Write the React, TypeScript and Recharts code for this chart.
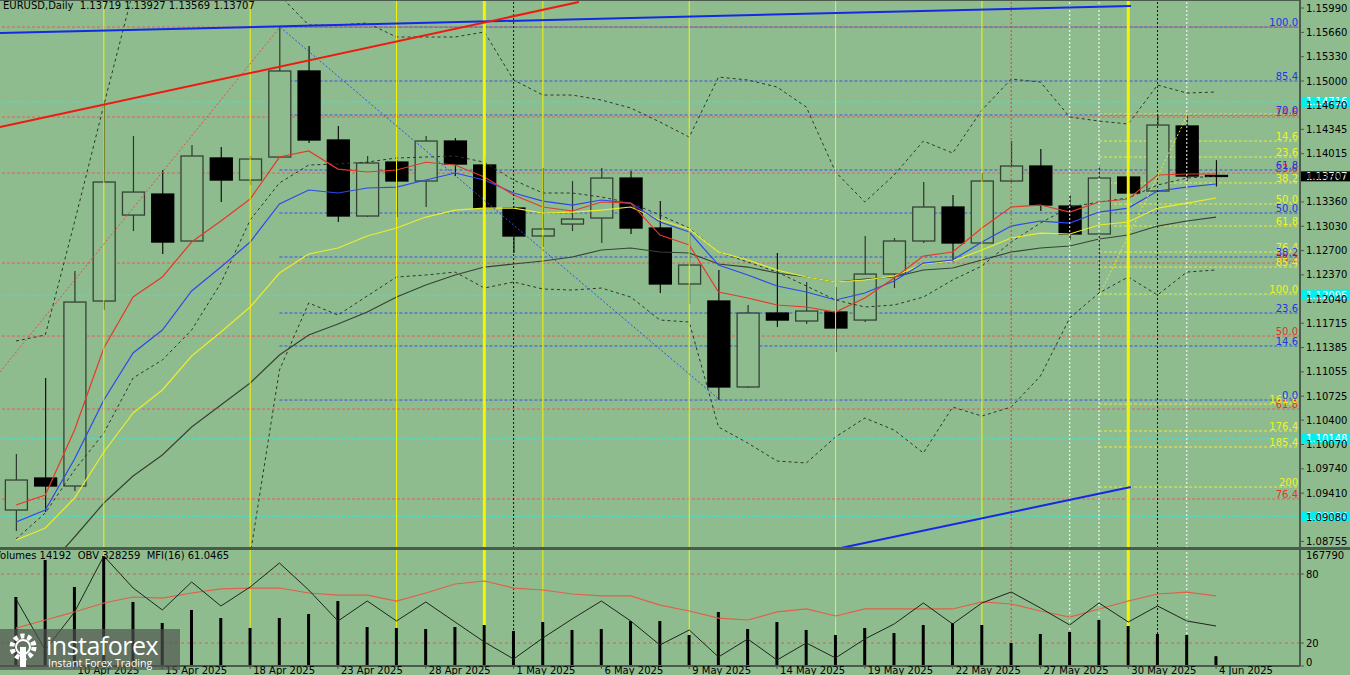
import React from 'react';
import { ComposedChart, Line, Bar, XAxis, YAxis, ReferenceLine, ReferenceDot } from 'recharts';

const dates = ['8 Apr 2025','9 Apr 2025','10 Apr 2025','11 Apr 2025','14 Apr 2025','15 Apr 2025','16 Apr 2025','17 Apr 2025','18 Apr 2025','21 Apr 2025','22 Apr 2025','23 Apr 2025','24 Apr 2025','25 Apr 2025','28 Apr 2025','29 Apr 2025','30 Apr 2025','1 May 2025','2 May 2025','5 May 2025','6 May 2025','7 May 2025','8 May 2025','9 May 2025','12 May 2025','13 May 2025','14 May 2025','15 May 2025','16 May 2025','19 May 2025','20 May 2025','21 May 2025','22 May 2025','23 May 2025','26 May 2025','27 May 2025','28 May 2025','29 May 2025','30 May 2025','2 Jun 2025','3 Jun 2025','4 Jun 2025'];

const openP = [1.09181,1.09615,1.09507,1.12016,1.13182,1.13467,1.1283,1.13956,1.13657,1.13969,1.15136,1.142,1.13169,1.13901,1.13644,1.14186,1.13861,1.13277,1.12898,1.1306,1.13142,1.13684,1.13006,1.12247,1.12016,1.1085,1.11853,1.11745,1.11867,1.11758,1.12382,1.1283,1.13291,1.12803,1.13644,1.13847,1.13304,1.12925,1.13698,1.13508,1.1439,1.13719];
const highP = [1.09941,1.10972,1.12423,1.14742,1.14254,1.13793,1.14132,1.14105,1.13983,1.15732,1.15475,1.1439,1.13983,1.13929,1.14254,1.14227,1.13996,1.13304,1.1382,1.13644,1.1382,1.13779,1.13372,1.12938,1.12437,1.11962,1.12667,1.12274,1.12206,1.12898,1.12871,1.1363,1.13454,1.13752,1.14186,1.14078,1.13454,1.13847,1.13901,1.14539,1.14539,1.13927];
const lowP = [1.08897,1.09154,1.09439,1.11894,1.12965,1.12653,1.1282,1.13359,1.13589,1.13955,1.1416,1.13088,1.13155,1.13155,1.13291,1.13711,1.13182,1.12667,1.12748,1.12965,1.12803,1.12925,1.12125,1.11975,1.10673,1.10836,1.11663,1.11704,1.11324,1.11731,1.12192,1.12803,1.12545,1.1279,1.1363,1.13237,1.12843,1.12125,1.13128,1.13495,1.13644,1.13569];
const closeP = [1.09588,1.09507,1.12002,1.1363,1.13494,1.12816,1.13983,1.13657,1.13942,1.15136,1.142,1.13169,1.13888,1.13644,1.14186,1.13874,1.13277,1.12898,1.12993,1.13128,1.13684,1.13006,1.12247,1.12504,1.1085,1.11853,1.11758,1.1188,1.1165,1.12382,1.1283,1.13291,1.12803,1.13644,1.13847,1.13318,1.12925,1.13684,1.13481,1.14403,1.13711,1.13707];

const maFast = [1.09249,1.09385,1.10266,1.11379,1.1207,1.12342,1.12816,1.13101,1.134,1.13969,1.14051,1.13806,1.13766,1.13793,1.13898,1.13861,1.13698,1.13454,1.13291,1.13237,1.13359,1.13345,1.12911,1.12776,1.12138,1.12057,1.11962,1.11935,1.11867,1.12057,1.12328,1.12626,1.12681,1.13006,1.13291,1.13318,1.13223,1.13359,1.134,1.13725,1.13739,1.13739];
const maMid = [1.09019,1.09181,1.09873,1.10673,1.11311,1.11623,1.12152,1.12477,1.12816,1.13332,1.13522,1.13481,1.13549,1.13562,1.13657,1.13752,1.13657,1.13481,1.13372,1.13318,1.13386,1.13345,1.13088,1.12952,1.12504,1.12369,1.1222,1.12138,1.1203,1.12125,1.12287,1.12531,1.12572,1.12816,1.13033,1.13101,1.13074,1.13223,1.13277,1.13508,1.13562,1.13603];
const maSlow = [1.08775,1.08937,1.09344,1.09968,1.10497,1.10809,1.1127,1.11596,1.11935,1.12396,1.12654,1.12735,1.12898,1.13006,1.13155,1.1325,1.13277,1.13277,1.1321,1.13223,1.1325,1.13291,1.13115,1.12993,1.12681,1.12572,1.12437,1.12342,1.12274,1.12301,1.12355,1.12518,1.12559,1.12708,1.12871,1.12938,1.12925,1.13047,1.13088,1.13277,1.13345,1.13413];
const maLong = [1.07961,1.08368,1.08815,1.09276,1.09643,1.09927,1.10307,1.10606,1.10904,1.11284,1.11555,1.11704,1.11867,1.1207,1.12233,1.12369,1.12477,1.12518,1.12559,1.12613,1.12708,1.12735,1.12681,1.12667,1.12518,1.12477,1.12396,1.12342,1.12274,1.12315,1.12342,1.12437,1.12464,1.12572,1.12681,1.12735,1.12762,1.12857,1.12911,1.13033,1.13101,1.13155];
const bandMid = [1.08788,1.09141,1.09724,1.10226,1.10972,1.11216,1.11623,1.1226,1.13115,1.13617,1.13861,1.13874,1.13901,1.13956,1.13969,1.13983,1.13898,1.13657,1.13481,1.13481,1.13427,1.13345,1.13183,1.13006,1.12681,1.12545,1.12409,1.1222,1.1203,1.11935,1.11962,1.1207,1.12301,1.12491,1.12816,1.13074,1.13291,1.13359,1.13413,1.13589,1.13684,1.13711];
const bandUp = [1.11474,1.11555,1.13088,1.14674,1.16221,null,null,null,null,1.16166,1.15759,1.15759,1.15787,1.15597,1.15597,1.15597,1.15665,1.15014,1.1481,1.1481,1.14742,1.14634,1.14444,1.1424,1.15054,1.15014,1.14919,1.14647,1.13766,1.13359,1.13725,1.14186,1.14023,1.14607,1.15027,1.14986,1.14512,1.14457,1.14417,1.14946,1.14837,1.14851];
const bandLow = [null,null,null,null,null,null,null,null,1.08571,1.1108,1.11989,1.11826,1.12084,1.12342,1.12369,1.12409,1.12192,1.12274,1.12179,1.12165,1.12192,1.1207,1.11758,1.11731,1.10307,1.1009,1.09846,1.09819,1.10172,1.10429,1.10266,1.09955,1.10578,1.10456,1.10578,1.10999,1.11786,1.12125,1.12342,1.12097,1.12409,1.12437];

const volumes = [99800,153300,114300,159100,92600,62200,81000,69400,55000,69400,75200,94000,56400,55000,53500,56400,59300,50600,63600,52100,53500,65100,65100,44800,78100,53500,63600,52100,44800,55000,47700,59300,62200,59300,33300,46300,49200,66500,57900,46300,44800,14192];
const obvVals = [406600,258700,368900,531300,438500,374700,455900,386300,441400,511000,432700,342800,400800,342800,397900,339900,281900,232600,293500,348600,400800,342800,273200,316700,238400,290600,229700,279000,235500,290600,334100,395000,334100,395000,426900,380500,331200,395000,339900,386300,342800,328259];
const mfiVals = [33.0,40.0,47.0,54.8,60.0,59.1,63.5,67.0,67.8,67.8,63.5,61.7,61.7,56.5,63.5,71.3,73.9,67.8,66.1,62.6,60.9,60.9,53.0,47.8,41.7,40.0,47.0,49.6,43.5,49.6,49.6,49.6,49.6,55.7,53.9,47.8,42.6,49.6,56.5,62.6,64.3,61.05];

const priceTicks = [1.1599,1.1566,1.1533,1.15,1.1467,1.14345,1.14015,1.1369,1.1336,1.1303,1.127,1.1237,1.1204,1.11715,1.11385,1.11055,1.10725,1.104,1.1007,1.0974,1.0941,1.0908,1.08755];
const dateTickIdx = [2,5,8,11,14,17,20,23,26,29,32,35,38,41];
const dateTickLabels = ['10 Apr 2025','15 Apr 2025','18 Apr 2025','23 Apr 2025','28 Apr 2025','1 May 2025','6 May 2025','9 May 2025','14 May 2025','19 May 2025','22 May 2025','27 May 2025','30 May 2025','4 Jun 2025'];

const redFibPrices = [1.15732,1.14512,1.13752,1.12531,1.11541,1.10551,1.09331];
const redFibLabels = ['','14.6','23.6','38.2','50.0','61.8','76.4'];
const blueFibPrices = [1.15732,1.15,1.14539,1.13793,1.1321,1.12613,1.11853,1.11406,1.10673];
const blueFibLabels = ['100.0','85.4','70.0','61.8','50.0','38.2','23.6','14.6','0.0'];
const yellowFibPrices = [1.14552,1.14186,1.13969,1.13617,1.13332,1.13033,1.12681,1.12477,1.12111,1.10619,1.10253,1.10036,1.09493];
const yellowFibLabels = ['','14.6','23.6','38.2','50.0','61.8','76.4','85.4','100.0','161.8','176.4','185.4','200'];
const cyanLevels = [1.14716,1.12095,1.10148,1.09094];
const blueFibStart = 9;
const yellowFibStart = 37;
const lastPrice = 1.13707;

const yellowThinBars = [3,8,13,18,23,28,33];
const yellowThickBars = [16,38];
const blackDotBars = [17,39];
const redDotBars = [34];
const whiteDotBars = [36,37,40];

const trendLines = [
  { a: [-0.547, 1.15651], b: [38.09, 1.16017], color: '#1428e6', w: 2, dash: undefined },
  { a: [-0.547, 1.14376], b: [19.23, 1.16071], color: '#ee1a10', w: 2, dash: undefined },
  { a: [28.22, 1.0867], b: [38.09, 1.09493], color: '#1428e6', w: 2, dash: undefined },
  { a: [-0.547, 1.11053], b: [9.02, 1.15732], color: '#e84848', w: 1, dash: '2 2' },
  { a: [9.02, 1.15732], b: [24.05, 1.10673], color: '#3050e6', w: 1, dash: '2 2' },
  { a: [37.03, 1.12111], b: [40.04, 1.14552], color: '#eaea30', w: 1, dash: '2 2' },
];

const XMIN = -0.547;
const XMAX = 43.867;
const PMIN = 1.08666;
const PMAX = 1.16099;

const BG = '#8fbc8f';
const FRAME = '#4b5b4b';
const FONT = 'DejaVu Sans';

const data = dates.map((d, i) => ({
  i, date: d, open: openP[i], high: highP[i], low: lowP[i], close: closeP[i],
  range: [lowP[i], highP[i]],
  ma1: maFast[i], ma2: maMid[i], ma3: maSlow[i], ma4: maLong[i],
  bm: bandMid[i], bu: bandUp[i], bl: bandLow[i],
  vol: volumes[i], obv: obvVals[i], mfi: mfiVals[i],
}));

const Candle = (props: any) => {
  const { x, y, width, height, payload } = props;
  if (x == null || y == null || !payload) return null;
  const top0 = height < 0 ? y + height : y;
  const h = Math.abs(height);
  const { open, close, high, low } = payload;
  const cx = x + width / 2;
  const span = high - low || 1;
  const py = (v: number) => top0 + ((high - v) / span) * h;
  const yo = py(open), yc = py(close);
  const t = Math.min(yo, yc), b = Math.max(yo, yc);
  const bull = close >= open;
  const bw = 22;
  const doji = Math.abs(close - open) < 0.00005;
  return (
    <g>
      <line x1={cx} x2={cx} y1={top0} y2={top0 + h} stroke={bull ? '#2c382c' : '#111'} strokeWidth={1.2} />
      {doji ? (
        <line x1={cx - bw / 2} x2={cx + bw / 2} y1={yc} y2={yc} stroke="#111" strokeWidth={1.5} />
      ) : (
        <rect x={cx - bw / 2} y={t} width={bw} height={Math.max(b - t, 1)} fill={bull ? BG : '#000'} stroke={bull ? '#344234' : '#000'} strokeWidth={1.3} />
      )}
    </g>
  );
};

const PriceTick = (p: any) => (
  <text x={p.x} y={p.y} dy={3.5} fontSize={10} fontFamily={FONT} fill="#000">{Number(p.payload.value).toFixed(5)}</text>
);

const IndTick = (p: any) => (
  <text x={p.x} y={p.payload.value === 0 ? p.y - 4 : p.y} dy={3.5} fontSize={10} fontFamily={FONT} fill="#000">{p.payload.value}</text>
);

const DateTick = (p: any) => {
  const k = dateTickIdx.indexOf(p.payload.value);
  return <text x={p.x + 3} y={p.y + 3} fontSize={10} fontFamily={FONT} fill="#000">{dateTickLabels[k]}</text>;
};

const fibLabel = (text: string, color: string) => (s: any) => (
  <text x={s.cx - 2} y={s.cy - 1} textAnchor="end" fontSize={10} fontFamily={FONT} fill={color}>{text}</text>
);

const axisBox = (text: string, fill: string, color: string) => (s: any) => (
  <g>
    <rect x={s.cx + 1} y={s.cy - 5} width={50} height={10} fill={fill} />
    <text x={s.cx + 6} y={s.cy + 3.5} fontSize={10} fontFamily={FONT} fill={color}>{text}</text>
  </g>
);

const verticals = (yAxisId?: string) => {
  const extra: any = yAxisId ? { yAxisId } : {};
  return [
    ...yellowThinBars.map((b) => <ReferenceLine key={'yt' + b} x={b} stroke="#f4f400" strokeWidth={1} {...extra} />),
    ...yellowThickBars.map((b) => <ReferenceLine key={'yk' + b} x={b} stroke="#f4f400" strokeWidth={3} {...extra} />),
    ...blackDotBars.map((b) => <ReferenceLine key={'bd' + b} x={b} stroke="#111" strokeWidth={1} strokeDasharray="2 2" {...extra} />),
    ...redDotBars.map((b) => <ReferenceLine key={'rd' + b} x={b} stroke="#e03c3c" strokeWidth={1} strokeDasharray="2 2" {...extra} />),
    ...whiteDotBars.map((b) => <ReferenceLine key={'wd' + b} x={b} stroke="#ffffff" strokeWidth={1} strokeDasharray="2 2" {...extra} />),
  ];
};

const layer: React.CSSProperties = { position: 'absolute', left: 0, top: 0 };

export default function App() {
  return (
    <div style={{ position: 'absolute', left: 0, top: 0, width: 1350, height: 675, background: BG, overflow: 'hidden', fontFamily: FONT }}>
      {/* main panel: back layer with horizontal levels */}
      <div style={layer}>
        <ComposedChart width={1350} height={548} data={data} margin={{ top: 0, right: 0, bottom: 0, left: 0 }}>
          <XAxis dataKey="i" type="number" domain={[XMIN, XMAX]} allowDataOverflow hide />
          <YAxis orientation="right" domain={[PMIN, PMAX]} allowDataOverflow ticks={priceTicks} interval={0} width={50} tick={false} tickLine={false} axisLine={false} />
          {redFibPrices.map((p, k) => <ReferenceLine key={'rl' + k} y={p} stroke="#e65a5a" strokeDasharray="3 2" />)}
          {cyanLevels.map((p, k) => <ReferenceLine key={'cl' + k} y={p} stroke="#48e0d0" strokeDasharray="3 2" />)}
          {blueFibPrices.map((p, k) => <ReferenceLine key={'bl' + k} segment={[{ x: blueFibStart, y: p }, { x: XMAX, y: p }]} stroke="#3a50e8" strokeDasharray="3 2" />)}
          {yellowFibPrices.map((p, k) => <ReferenceLine key={'yl' + k} segment={[{ x: yellowFibStart, y: p }, { x: XMAX, y: p }]} stroke="#e8e83a" strokeDasharray="3 2" />)}
        </ComposedChart>
      </div>
      {/* main panel: front layer */}
      <div style={layer}>
        <ComposedChart width={1350} height={548} data={data} margin={{ top: 0, right: 0, bottom: 0, left: 0 }}>
          <XAxis dataKey="i" type="number" domain={[XMIN, XMAX]} allowDataOverflow hide />
          <YAxis orientation="right" domain={[PMIN, PMAX]} allowDataOverflow ticks={priceTicks} interval={0} width={50}
            tick={<PriceTick />} tickSize={4} tickMargin={2} tickLine={{ stroke: FRAME }} axisLine={{ stroke: FRAME, strokeWidth: 2 }} />
          <Line dataKey="bu" stroke="#2c372c" strokeWidth={1} strokeDasharray="3 3" dot={false} isAnimationActive={false} />
          <Line dataKey="bl" stroke="#2c372c" strokeWidth={1} strokeDasharray="3 3" dot={false} isAnimationActive={false} />
          <Line dataKey="bm" stroke="#2c372c" strokeWidth={1} strokeDasharray="3 3" dot={false} isAnimationActive={false} />
          <Line dataKey="ma4" stroke="#364336" strokeWidth={1.2} dot={false} isAnimationActive={false} />
          <Line dataKey="ma3" stroke="#ecec2c" strokeWidth={1.2} dot={false} isAnimationActive={false} />
          <Line dataKey="ma2" stroke="#2e48ea" strokeWidth={1.2} dot={false} isAnimationActive={false} />
          <Line dataKey="ma1" stroke="#e43a2a" strokeWidth={1.2} dot={false} isAnimationActive={false} />
          <Bar dataKey="range" barSize={22} shape={<Candle />} isAnimationActive={false} />
          {verticals()}
          {trendLines.map((t, k) => (
            <ReferenceLine key={'tl' + k} segment={[{ x: t.a[0], y: t.a[1] }, { x: t.b[0], y: t.b[1] }]} stroke={t.color} strokeWidth={t.w} strokeDasharray={t.dash} />
          ))}
          {redFibPrices.map((p, k) => redFibLabels[k] ? <ReferenceDot key={'rt' + k} x={XMAX} y={p} r={0} ifOverflow="visible" shape={fibLabel(redFibLabels[k], '#e83030')} /> : null)}
          {yellowFibPrices.map((p, k) => yellowFibLabels[k] ? <ReferenceDot key={'yt' + k} x={XMAX} y={p} r={0} ifOverflow="visible" shape={fibLabel(yellowFibLabels[k], '#f2f222')} /> : null)}
          {blueFibPrices.map((p, k) => <ReferenceDot key={'bt' + k} x={XMAX} y={p} r={0} ifOverflow="visible" shape={fibLabel(blueFibLabels[k], '#2234e4')} />)}
          {cyanLevels.map((p, k) => <ReferenceDot key={'cb' + k} x={XMAX} y={p} r={0} ifOverflow="visible" shape={axisBox(p.toFixed(5), '#00f0f0', '#ffffff')} />)}
          <ReferenceDot x={XMAX} y={lastPrice} r={0} ifOverflow="visible" shape={axisBox(lastPrice.toFixed(5), '#000000', '#ffffff')} />
        </ComposedChart>
      </div>
      <div style={{ position: 'absolute', left: 0, top: 0, width: 1300, height: 1, background: FRAME }} />
      <div style={{ position: 'absolute', left: 0, top: 547, width: 1350, height: 3, background: FRAME }} />
      {/* indicator panel: back layer */}
      <div style={{ position: 'absolute', left: 0, top: 550 }}>
        <ComposedChart width={1350} height={125} data={data} margin={{ top: 0, right: 0, bottom: 0, left: 0 }}>
          <XAxis dataKey="i" type="number" domain={[XMIN, XMAX]} allowDataOverflow height={9} tick={false} tickLine={false} axisLine={false} />
          <YAxis yAxisId="mfi" orientation="right" domain={[0, 100.87]} allowDataOverflow width={50} tick={false} tickLine={false} axisLine={false} />
          <ReferenceLine yAxisId="mfi" y={80} stroke="#d85a5a" strokeDasharray="3 3" />
          <ReferenceLine yAxisId="mfi" y={20} stroke="#d85a5a" strokeDasharray="3 3" />
          {verticals('mfi')}
        </ComposedChart>
      </div>
      {/* indicator panel: front layer */}
      <div style={{ position: 'absolute', left: 0, top: 550 }}>
        <ComposedChart width={1350} height={125} data={data} margin={{ top: 0, right: 0, bottom: 0, left: 0 }}>
          <XAxis dataKey="i" type="number" domain={[XMIN, XMAX]} allowDataOverflow ticks={dateTickIdx} interval={0} height={9}
            tick={<DateTick />} tickSize={3} tickLine={{ stroke: FRAME }} axisLine={{ stroke: FRAME, strokeWidth: 2 }} />
          <YAxis yAxisId="mfi" orientation="right" domain={[0, 100.87]} allowDataOverflow ticks={[0, 20, 80]} interval={0} width={50}
            tick={<IndTick />} tickSize={4} tickMargin={2} tickLine={{ stroke: FRAME }} axisLine={{ stroke: FRAME, strokeWidth: 2 }} />
          <YAxis yAxisId="vol" hide domain={[0, 167790]} allowDataOverflow />
          <YAxis yAxisId="obv" hide domain={[212259, 548659]} allowDataOverflow />
          <Bar yAxisId="vol" dataKey="vol" barSize={3} fill="#000" isAnimationActive={false} />
          <Line yAxisId="mfi" dataKey="mfi" stroke="#e0604a" strokeWidth={1.2} dot={false} isAnimationActive={false} />
          <Line yAxisId="obv" dataKey="obv" stroke="#1c241c" strokeWidth={1} dot={false} isAnimationActive={false} />
          <ReferenceDot yAxisId="vol" x={XMAX} y={167790} r={0} ifOverflow="visible"
            shape={(s: any) => <text x={s.cx + 6} y={s.cy + 8.5} fontSize={10} fontFamily={FONT} fill="#000">167790</text>} />
        </ComposedChart>
      </div>
      <div style={{ position: 'absolute', left: 3, top: 0, fontSize: 10, lineHeight: '12px', color: '#000', whiteSpace: 'pre' }}>
        {'EURUSD,Daily  1.13719 1.13927 1.13569 1.13707'}
      </div>
      <div style={{ position: 'absolute', left: -6, top: 550, fontSize: 10, lineHeight: '12px', color: '#000', whiteSpace: 'pre' }}>
        {'Volumes 14192  OBV 328259  MFI(16) 61.0465'}
      </div>
      <div style={{ position: 'absolute', left: 0, top: 629, width: 180, height: 41, background: 'rgba(78,82,78,0.68)' }}>
        <svg width={44} height={41} style={{ position: 'absolute', left: 3, top: 0 }}>
          <circle cx={20} cy={18} r={11} fill="none" stroke="#ffffff" strokeWidth={5} strokeDasharray="4 3" />
          <circle cx={20} cy={18} r={7} fill="none" stroke="#ffffff" strokeWidth={2} />
          <rect x={17} y={18} width={6} height={20} fill="#ffffff" />
        </svg>
        <div style={{ position: 'absolute', left: 46, top: 2, fontSize: 25, lineHeight: '28px', color: '#ffffff', fontFamily: 'Open Sans', letterSpacing: -0.5 }}>instaforex</div>
        <div style={{ position: 'absolute', left: 48, top: 28, fontSize: 10.5, lineHeight: '12px', color: '#ffffff', fontFamily: 'Open Sans' }}>Instant Forex Trading</div>
      </div>
    </div>
  );
}
